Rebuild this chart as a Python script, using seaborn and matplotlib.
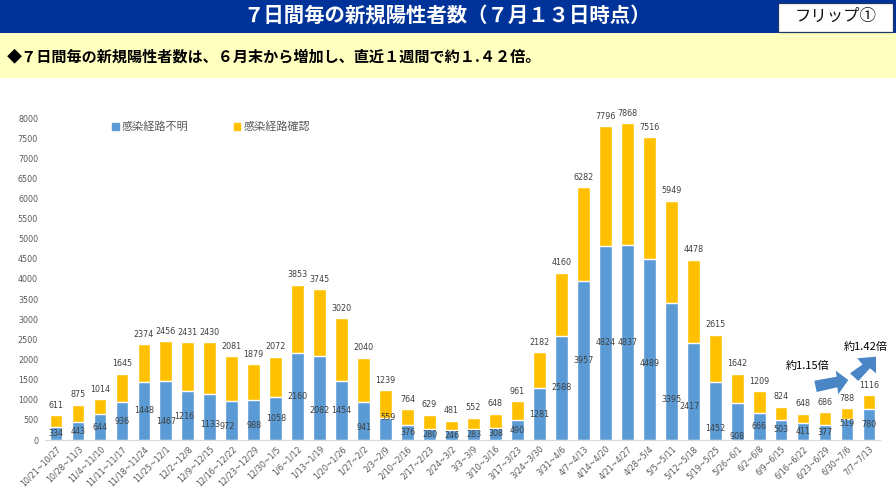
import matplotlib

matplotlib.use("Agg")
import pandas as pd
import seaborn as sns
from matplotlib import pyplot as plt
from matplotlib.patches import Patch, Polygon, Rectangle

weeks = [
    "10/21~10/27", "10/28~11/3", "11/4~11/10", "11/11~11/17", "11/18~11/24",
    "11/25~12/1", "12/2~12/8", "12/9~12/15", "12/16~12/22", "12/23~12/29",
    "12/30~1/5", "1/6~1/12", "1/13~1/19", "1/20~1/26", "1/27~2/2", "2/3~2/9",
    "2/10~2/16", "2/17~2/23", "2/24~3/2", "3/3~3/9", "3/10~3/16", "3/17~3/23",
    "3/24~3/30", "3/31~4/6", "4/7~4/13", "4/14~4/20", "4/21~4/27", "4/28~5/4",
    "5/5~5/11", "5/12~5/18", "5/19~5/25", "5/26~6/1", "6/2~6/8", "6/9~6/15",
    "6/16~6/22", "6/23~6/29", "6/30~7/6", "7/7~7/13",
]
totals = [
    611, 875, 1014, 1645, 2374, 2456, 2431, 2430, 2081, 1879, 2072, 3853, 3745,
    3020, 2040, 1239, 764, 629, 481, 552, 648, 961, 2182, 4160, 6282, 7796,
    7868, 7516, 5949, 4478, 2615, 1642, 1209, 824, 648, 686, 788, 1116,
]
unknown_route = [
    334, 443, 644, 936, 1448, 1467, 1216, 1133, 972, 988, 1058, 2160, 2082,
    1454, 941, 559, 376, 280, 246, 283, 308, 490, 1281, 2588, 3957, 4824,
    4837, 4489, 3395, 2417, 1452, 908, 666, 503, 411, 377, 519, 780,
]
y_ticks = list(range(0, 8001, 500))

# full width digits and parentheses, as on the slide
title = "\uff17日間毎の新規陽性者数\uff08\uff17月\uff11\uff13日時点\uff09"
subtitle = "◆\uff17日間毎の新規陽性者数は、\uff16月末から増加し、直近\uff11週間で約\uff11.\uff14\uff12倍。"

# label nudges in pixels (x, y up), the source chart had hand placed labels
nudges = {
    5: (0, -11), 6: (-4, -1), 7: (0, -7), 8: (-5, -6), 9: (0, -5), 12: (0, -12),
    14: (0, -6), 15: (2, 11), 27: (0, -14), 28: (0, -28), 29: (-4, -15),
    30: (0, -18), 31: (0, -15), 36: (0, 6),
}

BLUE = "#5B9BD5"
YELLOW = "#FFC000"
GREY = "#595959"
W, H = 896, 504

sns.set_theme(style="white")
plt.rcParams["font.family"] = ["Noto Sans CJK JP", "DejaVu Sans"]

df = pd.DataFrame({"week": weeks, "total": totals, "unknown": unknown_route})


def fx(x):
    return x / W


def fy(y):
    return 1 - y / H


fig = plt.figure(figsize=(W / 100, H / 100), dpi=100, facecolor="white")

# Header bands
fig.add_artist(Rectangle((0, fy(33)), 1, 33 / H, transform=fig.transFigure, color="#003399", lw=0))
fig.add_artist(Rectangle((0, fy(78)), 1, 45 / H, transform=fig.transFigure, color="#FFFFC0", lw=0))
fig.add_artist(Rectangle((fx(778), fy(32)), 115 / W, 29 / H, transform=fig.transFigure,
                         facecolor="white", edgecolor="#1F3864", lw=0.9))
fig.text(fx(447), fy(15), title, color="white", fontsize=14.7, fontweight="bold",
         ha="center", va="center")
fig.text(fx(836), fy(16), "フリップ①", color="#111111", fontsize=11.8, ha="center", va="center")
fig.text(fx(7), fy(56), subtitle, color="black", fontsize=10.9, fontweight="bold",
         ha="left", va="center")

# Chart
ax = fig.add_axes([fx(45), fy(440), 835 / W, 322 / H])
sns.barplot(data=df, x="week", y="total", color=YELLOW, saturation=1, width=0.58, ax=ax)
sns.barplot(data=df, x="week", y="unknown", color=BLUE, saturation=1, width=0.58, ax=ax)

ax.set_xlim(-0.5, len(weeks) - 0.5)
ax.set_ylim(0, 8000)
ax.set_yticks(y_ticks)
ax.set_xlabel("")
ax.set_ylabel("")
ax.tick_params(axis="y", labelsize=5.8, labelcolor=GREY, length=0, pad=5)
ax.tick_params(axis="x", labelsize=5.8, labelcolor=GREY, length=0, pad=3)
ax.set_xticks(range(len(weeks)))
ax.set_xticklabels(weeks, rotation=45, ha="right", rotation_mode="anchor")
for tick in ax.get_xticklabels() + ax.get_yticklabels():
    tick.set_family("DejaVu Sans")
sns.despine(ax=ax, left=True)
ax.spines["bottom"].set_color("#D9D9D9")
ax.spines["bottom"].set_linewidth(0.8)

for i, (total, unknown) in enumerate(zip(totals, unknown_route)):
    ax.annotate(str(total), (i, total), xytext=(0, 7.2), textcoords="offset points",
                ha="center", va="center", fontsize=5.8, color="#404040", family="DejaVu Sans")
    dx, dy = nudges.get(i, (0, 0))
    ax.annotate(str(unknown), (i, unknown / 2), xytext=(dx * 0.72, dy * 0.72),
                textcoords="offset points", ha="center", va="center", fontsize=5.8,
                color="#404040", family="DejaVu Sans")

handles = [Patch(color=BLUE, label="感染経路不明"), Patch(color=YELLOW, label="感染経路確認")]
ax.legend(handles=handles, loc="center left", bbox_to_anchor=(57 / 835, (440 - 127) / 322),
          ncol=2, frameon=False, fontsize=8, labelcolor=GREY, handlelength=0.6, handleheight=0.6,
          handletextpad=0.25, columnspacing=4.1)

# Arrows and their notes, outlines in picture pixels
arrow_outlines = [
    [(814.3, 380.7), (836.7, 376.7), (835.7, 370.7), (848.3, 380), (838.3, 394.3), (837.3, 387.3), (816.7, 392)],
    [(850, 373.3), (862.5, 364.5), (857.3, 358.3), (876, 356.7), (876, 373.3), (870, 368.3), (858.3, 381)],
]
for outline in arrow_outlines:
    fig.add_artist(Polygon([(fx(x), fy(y)) for x, y in outline], closed=True,
                           transform=fig.transFigure, color="#4A86C5", lw=0))
fig.text(fx(808), fy(366), "約1.15倍", color="black", fontsize=8, ha="center", va="center")
fig.text(fx(866), fy(347), "約1.42倍", color="black", fontsize=8, ha="center", va="center")

fig.savefig("out.png", dpi=100)
